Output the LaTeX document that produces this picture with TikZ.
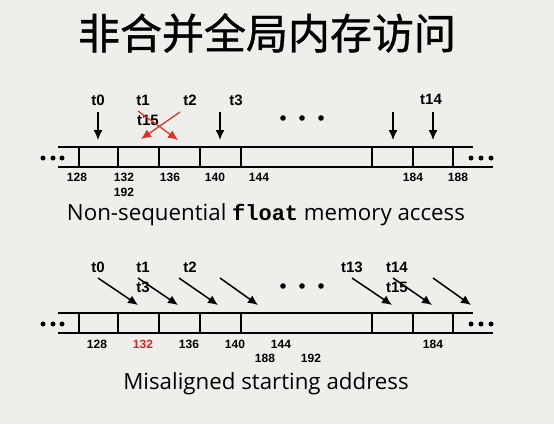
\documentclass[tikz,border=0pt]{standalone}
\usepackage{fontspec}
\setmainfont{Open Sans}
\setsansfont{Liberation Sans}
\setmonofont{Liberation Mono}
\newfontfamily\cjk[FakeBold=0.9]{Noto Sans CJK SC}
\usetikzlibrary{shapes,arrows,arrows.meta,positioning}
\definecolor{slidebg}{RGB}{238,238,235}
\definecolor{crossred}{RGB}{222,52,40}
\definecolor{addrred}{RGB}{210,40,40}

\tikzset{
	thread/.style={font=\sffamily\bfseries\fontsize{15}{15}\selectfont,inner sep=0pt},
	addr/.style={font=\sffamily\bfseries\fontsize{12}{12}\selectfont,inner sep=0pt},
	caption/.style={font=\fontsize{22.3}{24}\selectfont,inner sep=0pt},
	memline/.style={line width=1.6pt},
	tharrow/.style={-{Latex[length=10pt,width=9pt]},line width=1.5pt},
	crossarrow/.style={-{Latex[length=10pt,width=9pt]},line width=1.3pt,crossred},
}

\begin{document}
\begin{tikzpicture}[x=1pt,y=-1pt]
	\fill[slidebg] (0,0) rectangle (554,424);
	\useasboundingbox (0,0) rectangle (554,424);

	\node[font=\cjk\fontsize{42}{42}\selectfont] (title) at (267,33) {非合并全局内存访问};

	% the two memory rows
	\foreach \row in {147,313} {
		\draw[memline] (58,\row) -- (473,\row);
		\draw[memline] (58,\row+20) -- (493,\row+20);
		\foreach \x in {79,118,159,200,241,372,413,453} \draw[memline] (\x,\row) -- (\x,\row+20);
		\foreach \x in {43,53,62} \fill (\x,\row+11) circle (2.5);
		\foreach \x in {471,481,491} \fill (\x,\row+11) circle (2.5);
	}
	\foreach \x in {283,302,321} \fill (\x,118) circle (2.8);
	\foreach \x in {283,302,321} \fill (\x,286) circle (2.8);

	% non-sequential access
	\foreach \n/\x/\y/\t in {a/98/100/t0,b/143/100/t1,c/148/120/t15,d/190/100/t2,e/236/100/t3,f/431/99/t14}
		\node[thread] (top\n) at (\x,\y) {\t};
	\foreach \n/\x in {a/98,e/220,g/393,f/433} {
		\coordinate (ts\n) at (\x,112); \coordinate (te\n) at (\x,140);
		\draw[tharrow] (ts\n) -- (te\n);
	}
	\coordinate (rs1) at (138,111); \coordinate (re1) at (178,140);
	\coordinate (rs2) at (180,112); \coordinate (re2) at (141,139);
	\draw[crossarrow] (rs1) -- (re1);
	\draw[crossarrow] (rs2) -- (re2);
	\foreach \n/\x/\y/\t in {a/77/177/128,b/124/177/132,c/124/192/192,d/170/177/136,e/215/177/140,f/259/177/144,g/413/177/184,h/458/177/188}
		\node[addr] (ta\n) at (\x,\y) {\t};
	\node[caption] (cap1) at (266,215) {Non-sequential \texttt{\bfseries\fontsize{22}{24}\selectfont float} memory access};

	% misaligned access
	\foreach \n/\x/\y/\t in {a/98/267/t0,b/143/267/t1,c/143/287/t3,d/190/267/t2,e/352/267/t13,f/397/267/t14,g/397/287/t15}
		\node[thread] (bot\n) at (\x,\y) {\t};
	\foreach \n/\xs/\xe in {a/98/138,b/138/178,c/179/218,d/220/258,e/352/392,f/393/432,g/433/471} {
		\coordinate (bs\n) at (\xs,278); \coordinate (be\n) at (\xe,305);
		\draw[tharrow] (bs\n) -- (be\n);
	}
	\foreach \n/\x/\y/\t in {a/97/344/128,c/189/344/136,d/235/344/140,e/281/344/144,f/265/358/188,g/311/358/192,h/433/344/184}
		\node[addr] (ba\n) at (\x,\y) {\t};
	\node[addr,text=addrred] (bab) at (143,344) {132};
	\node[caption] (cap2) at (266,384) {Misaligned starting address};
\end{tikzpicture}
\end{document}
